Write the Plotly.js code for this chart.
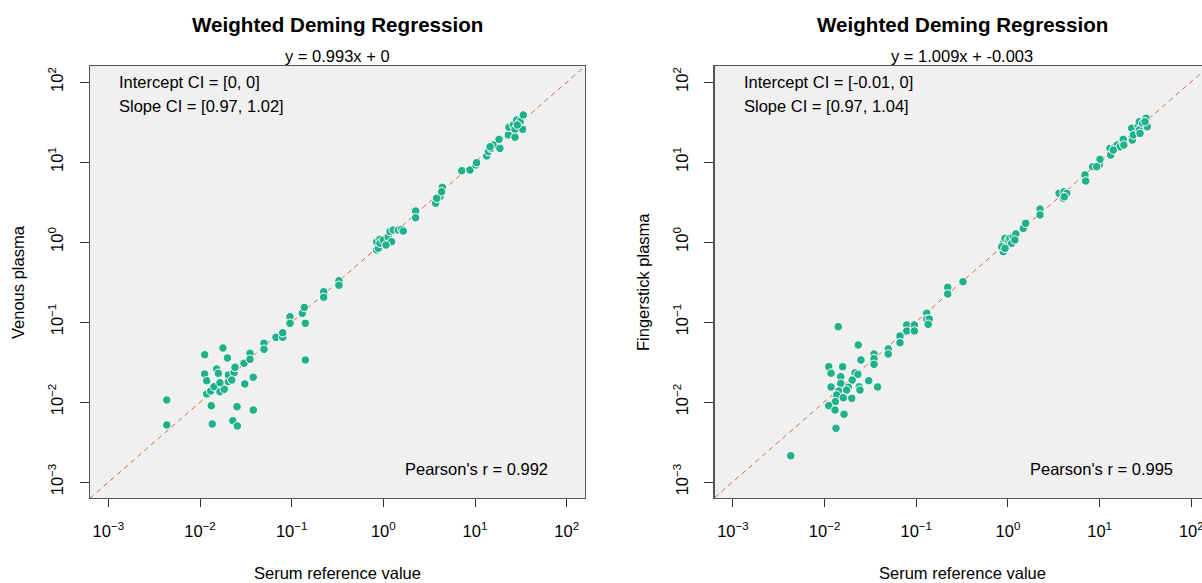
<!DOCTYPE html>
<html>
<head>
<meta charset="utf-8">
<script src="https://cdn.plot.ly/plotly-3.0.1.min.js"></script>
<style>
html,body{margin:0;padding:0;overflow:hidden;background:#fff;}
#chart{width:1250px;height:583px;}
</style>
</head>
<body>
<div id="chart"></div>
<script>
// ---- data ----
const leftX = [0.00434,0.00434,0.01125,0.0178,0.0199,0.01125,0.01183,0.0152,0.01585,0.01183,
  0.0131,0.01422,0.01652,0.0184,0.01652,0.0204,0.0204,0.0235,0.0241,0.0222,
  0.0302,0.0351,0.0351,0.0308,0.0381,0.01327,0.02535,0.0381,0.0136,0.0228,
  0.0255,0.0499,0.0499,0.0675,0.0798,0.0798,0.0959,0.0959,0.1306,0.1374,
  0.141,0.141,0.2234,0.2234,0.328,0.328,0.846,0.881,0.846,0.919,
  0.919,1.0,1.13,1.18,1.285,1.233,1.07,1.455,1.585,1.65,
  2.25,2.25,3.72,4.15,4.40,4.33,3.82,7.16,8.81,10.2,
  10.4,13.4,14.0,14.9,15.8,18.3,18.7,14.6,23.1,23.5,
  26.2,27.3,27.3,28.5,31.0,33.1,33.6,28.9];
const leftY = [0.0106,0.00516,0.0390,0.0473,0.0355,0.0224,0.01846,0.02585,0.02285,0.01259,
  0.01372,0.01553,0.01345,0.01442,0.01743,0.01795,0.02176,0.02323,0.02716,0.01884,
  0.0305,0.0406,0.0342,0.0168,0.0204,0.0090,0.00873,0.00794,0.00531,0.00584,
  0.00501,0.0542,0.0456,0.0644,0.0644,0.0735,0.1164,0.0964,0.1285,0.152,
  0.0964,0.0335,0.239,0.2037,0.328,0.2875,0.794,0.834,1.01,1.08,
  0.964,1.06,1.16,1.35,1.41,1.01,0.917,1.41,1.44,1.37,
  2.44,2.01,3.05,3.68,4.83,4.25,3.52,7.78,7.94,9.17,
  9.8,11.9,13.5,14.8,16.3,19.2,14.8,15.5,21.8,27.2,
  29.0,25.6,20.4,33.5,31.9,25.6,38.7,29.0];
const rightX = [0.0141,0.0233,0.0249,0.0111,0.01175,0.01574,0.0150,0.0215,0.0231,0.0200,
  0.0150,0.01175,0.01426,0.01815,0.0174,0.0239,0.0243,0.0303,0.0379,0.01355,
  0.016,0.0198,0.0131,0.0111,0.0130,0.0163,0.0133,0.00427,0.0346,0.0346,
  0.0346,0.0495,0.0495,0.0664,0.0664,0.0787,0.0787,0.0953,0.0953,0.130,
  0.130,0.1387,0.135,0.2204,0.2204,0.3235,0.89,0.969,0.89,0.855,
  0.929,1.01,1.05,1.14,1.22,1.10,0.929,1.47,1.56,1.19,
  2.24,2.24,3.61,4.09,4.38,4.02,4.12,6.93,7.05,8.41,
  9.93,10.1,9.29,13.0,13.2,14.7,15.6,16.7,18.1,18.4,
  14.1,22.4,22.7,23.3,26.4,27.1,27.6,27.1,29.5,32.1,
  33.1,31.3];
const rightY = [0.0874,0.0516,0.0335,0.0276,0.0229,0.0276,0.0207,0.0232,0.0222,0.0188,
  0.0171,0.0154,0.01372,0.01527,0.0141,0.0155,0.0141,0.01846,0.0154,0.01224,
  0.01132,0.0111,0.0101,0.0090,0.00794,0.00702,0.00469,0.00213,0.0398,0.0348,
  0.0296,0.046,0.0398,0.0668,0.0551,0.0917,0.0772,0.0917,0.0772,0.1285,
  0.109,0.109,0.0936,0.2716,0.224,0.319,0.964,0.964,0.757,0.873,
  1.11,1.06,1.11,1.16,1.26,0.964,0.834,1.48,1.71,1.06,
  2.58,2.18,4.06,4.25,4.06,3.52,3.68,6.88,5.79,8.73,
  9.17,10.8,8.73,14.8,12.2,15.5,16.3,15.5,19.2,16.3,
  14.1,26.4,18.8,21.8,28.4,25.1,22.8,31.9,30.5,35.2,
  27.6,31.9];
const leftSlope = 0.993, leftIntercept = 0;
const rightSlope = 1.009, rightIntercept = -0.003;
const tickVals = [0.001,0.01,0.1,1,10,100];
const tickText = ['10<sup>−3</sup>','10<sup>−2</sup>','10<sup>−1</sup>','10<sup>0</sup>','10<sup>1</sup>','10<sup>2</sup>'];
const logRange = [-3.2, 2.2];
const panelTitle = 'Weighted Deming Regression';
const leftSub = 'y = 0.993x + 0', rightSub = 'y = 1.009x + -0.003';
const leftCI = ['Intercept CI = [0, 0]', 'Slope CI = [0.97, 1.02]'];
const rightCI = ['Intercept CI = [-0.01, 0]', 'Slope CI = [0.97, 1.04]'];
const leftR = "Pearson's r = 0.992", rightR = "Pearson's r = 0.995";
const xTitle = 'Serum reference value';
const leftYTitle = 'Venous plasma', rightYTitle = 'Fingerstick plasma';

// ---- drawing ----
const W = 1250, H = 583;
const ptColor = '#20b08c', lineColor = '#e0652a';
const lineX = [Math.pow(10, logRange[0]), Math.pow(10, logRange[1])];
function pts(x, y, xa, ya) {
  return {x:x, y:y, xaxis:xa, yaxis:ya, type:'scatter', mode:'markers', hoverinfo:'skip',
    marker:{color:ptColor, size:8.5, line:{color:'#ffffff', width:1}}, showlegend:false};
}
function fit(slope, xa, ya) {
  return {x:lineX, y:lineX.map(v => v*slope), xaxis:xa, yaxis:ya, type:'scatter', mode:'lines',
    hoverinfo:'skip', line:{color:lineColor, width:1, dash:'5px,4px'}, showlegend:false};
}
const traces = [fit(leftSlope,'x','y'), pts(leftX,leftY,'x','y'),
                fit(rightSlope,'x2','y2'), pts(rightX,rightY,'x2','y2')];

const font = {family:'"Liberation Sans", Arial, sans-serif', size:16.5, color:'#000'};
function xax(domain, anchor) {
  return {type:'log', domain:domain, anchor:anchor, range:logRange, tickvals:tickVals, ticktext:tickText,
    showgrid:false, zeroline:false, showline:true, mirror:true, linecolor:'#555', linewidth:1.3,
    ticks:'outside', ticklen:8, tickcolor:'#333', tickwidth:1, ticklabelstandoff:10,
    tickfont:font};
}
function yax(domain, anchor) {
  return {type:'log', domain:domain, anchor:anchor, range:logRange, tickvals:tickVals, ticktext:tickText,
    showgrid:false, zeroline:false, showline:true, mirror:true, linecolor:'#555', linewidth:1.3,
    ticks:'outside', ticklen:9, tickcolor:'#333', tickwidth:1, tickangle:-90, ticklabelstandoff:10,
    tickfont:font};
}
const xd1 = [90/W, 585/W], xd2 = [714.6/W, 1209.6/W], yd = [85/H, 517/H];
const ann = [];
function panelAnn(xref, yref, d, sub, ci, r, ytitle, ytX) {
  const cx = (d[0]+d[1])/2;
  ann.push({xref:'paper', yref:'paper', x:cx, y:(H-24)/H, text:'<b>'+panelTitle+'</b>', showarrow:false,
    xanchor:'center', yanchor:'middle', font:Object.assign({}, font, {size:20.6})});
  ann.push({xref:'paper', yref:'paper', x:cx, y:(H-56)/H, text:sub, showarrow:false,
    xanchor:'center', yanchor:'middle', font:font});
  ann.push({xref:xref+' domain', yref:yref+' domain', x:0.055, y:(498-82)/432, text:ci[0], showarrow:false,
    xanchor:'left', yanchor:'middle', font:font});
  ann.push({xref:xref+' domain', yref:yref+' domain', x:0.055, y:(498-106)/432, text:ci[1], showarrow:false,
    xanchor:'left', yanchor:'middle', font:font});
  ann.push({xref:xref+' domain', yref:yref+' domain', x:0.93, y:(498-469)/432, text:r, showarrow:false,
    xanchor:'right', yanchor:'middle', font:font});
  ann.push({xref:'paper', yref:'paper', x:cx, y:(H-573)/H, text:xTitle, showarrow:false,
    xanchor:'center', yanchor:'middle', font:font});
  ann.push({xref:'paper', yref:'paper', x:ytX/W, y:(H-282)/H, text:ytitle, showarrow:false, textangle:-90,
    xanchor:'center', yanchor:'middle', font:font});
}
panelAnn('x','y',xd1,leftSub,leftCI,leftR,leftYTitle,18);
panelAnn('x2','y2',xd2,rightSub,rightCI,rightR,rightYTitle,643);

const layout = {
  width:W, height:H, margin:{l:0,r:0,t:0,b:0}, paper_bgcolor:'#fff', plot_bgcolor:'#f0f0f0',
  font:font, showlegend:false,
  xaxis:xax(xd1,'y'), yaxis:yax(yd,'x'),
  xaxis2:xax(xd2,'y2'), yaxis2:yax(yd,'x2'),
  annotations:ann
};
Plotly.newPlot('chart', traces, layout, {staticPlot:true, displayModeBar:false});
</script>
</body>
</html>
